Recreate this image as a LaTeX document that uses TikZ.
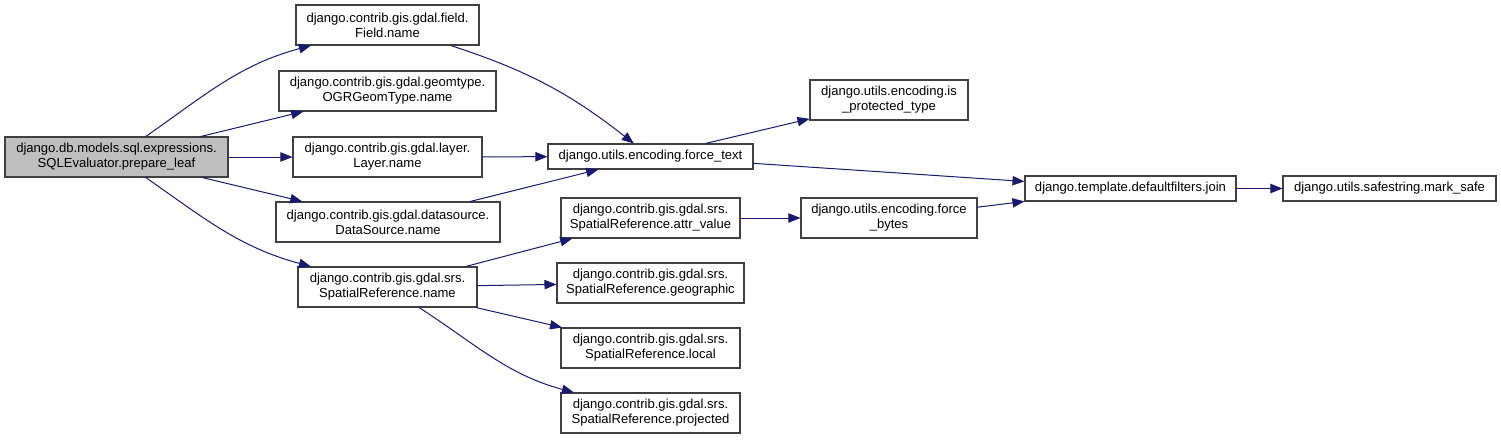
\documentclass[tikz,border=0pt]{standalone}
\usepackage{fontspec}
\setmainfont{Liberation Sans}
\usetikzlibrary{arrows.meta}
\definecolor{edgeblue}{HTML}{191970}
\definecolor{rootgray}{HTML}{BFBFBF}

\begin{document}
\begin{tikzpicture}[
  x=0.75pt, y=-0.75pt,
  >={Triangle[length=9pt, width=7pt]},
  box/.style={rectangle, draw=black!75, line width=0.8pt, minimum height=30pt, align=center, inner sep=2pt, font=\fontsize{9.8}{11.4}\selectfont},
  onebox/.style={box, minimum height=18.75pt},
  arrow/.style={->, draw=edgeblue, line width=0.75pt},
]
  \useasboundingbox (0,0) rectangle (1501,440);

  % Caller
  \node[box, fill=rootgray, minimum width=167.25pt] (root) at (116.5,157) {django.db.models.sql.expressions.\\SQLEvaluator.prepare\_leaf};

  % First column
  \node[box, minimum width=137.25pt] (field) at (387.5,25) {django.contrib.gis.gdal.field.\\Field.name};
  \node[box, minimum width=162.75pt] (geomtype) at (387.5,91) {django.contrib.gis.gdal.geomtype.\\OGRGeomType.name};
  \node[box, minimum width=141.75pt] (layer) at (387.5,157) {django.contrib.gis.gdal.layer.\\Layer.name};
  \node[box, minimum width=168pt] (datasource) at (388,222) {django.contrib.gis.gdal.datasource.\\DataSource.name};
  \node[box, minimum width=134.25pt] (srname) at (387.5,287) {django.contrib.gis.gdal.srs.\\SpatialReference.name};

  % Second column
  \node[onebox, minimum width=153.75pt] (forcetext) at (650.5,156.5) {django.utils.encoding.force\_text};
  \node[box, minimum width=134.25pt] (attrvalue) at (650.5,218) {django.contrib.gis.gdal.srs.\\SpatialReference.attr\_value};
  \node[box, minimum width=140.25pt] (geographic) at (650.5,283) {django.contrib.gis.gdal.srs.\\SpatialReference.geographic};
  \node[box, minimum width=134.25pt] (local) at (650.5,348) {django.contrib.gis.gdal.srs.\\SpatialReference.local};
  \node[box, minimum width=134.25pt] (projected) at (650.5,413) {django.contrib.gis.gdal.srs.\\SpatialReference.projected};

  % Third column
  \node[box, minimum width=118.5pt] (protected) at (889,100) {django.utils.encoding.is\\\_protected\_type};
  \node[box, minimum width=132pt] (forcebytes) at (889,218) {django.utils.encoding.force\\\_bytes};

  % Right end
  \node[onebox, minimum width=158.25pt] (join) at (1130.5,188.5) {django.template.defaultfilters.join};
  \node[onebox, minimum width=159.75pt] (marksafe) at (1389.5,188.5) {django.utils.safestring.mark\_safe};

  % Calls from the caller
  \draw[arrow] (root) to[out=35, in=195] (field);
  \draw[arrow] (root) -- (geomtype);
  \draw[arrow] (root) -- (layer);
  \draw[arrow] (root) -- (datasource);
  \draw[arrow] (root) to[out=-35, in=165] (srname);

  % Into force_text
  \draw[arrow] (field) to[out=-18, in=142] (forcetext);
  \draw[arrow] (layer) -- (forcetext);
  \draw[arrow] (datasource) -- (forcetext);

  % SpatialReference calls
  \draw[arrow] (srname) -- (attrvalue);
  \draw[arrow] (srname) -- (geographic);
  \draw[arrow] (srname) -- (local);
  \draw[arrow] (srname) to[out=-33, in=165] (projected);

  % Onwards
  \draw[arrow] (forcetext) -- (protected);
  \draw[arrow] (forcetext) -- (join);
  \draw[arrow] (attrvalue) -- (forcebytes);
  \draw[arrow] (forcebytes) -- (join);
  \draw[arrow] (join) -- (marksafe);
\end{tikzpicture}
\end{document}
